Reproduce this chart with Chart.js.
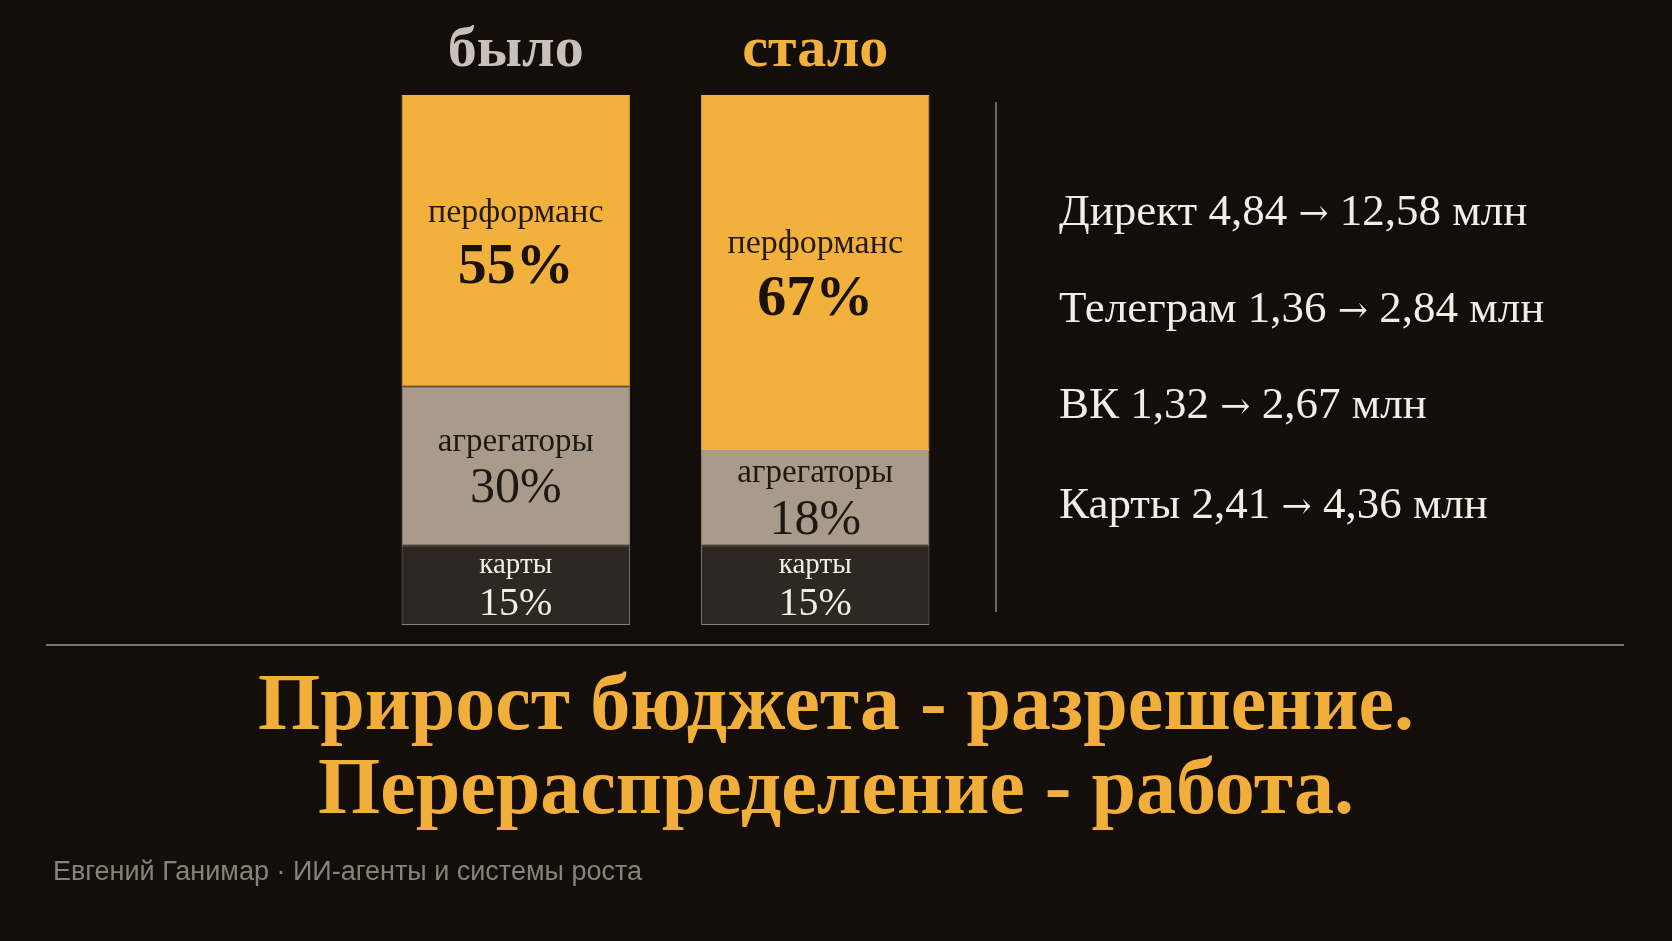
<!DOCTYPE html>
<html lang="ru">
<head>
<meta charset="utf-8">
<title>Бюджет: было / стало</title>
<script src="https://cdn.jsdelivr.net/npm/chart.js@4.4.1/dist/chart.umd.min.js"></script>
<style>
  html, body { margin: 0; padding: 0; background: #140e0b; }
  body { width: 1672px; height: 941px; position: relative; overflow: hidden; font-family: "Liberation Serif", "DejaVu Serif", serif; }
  #wrap { position: absolute; left: 0; top: 0; width: 1672px; height: 941px; }
  .divider { position: absolute; left: 995px; top: 102px; width: 2px; height: 510px; background: #6f665d; }
  .rule { position: absolute; left: 46px; top: 644px; width: 1578px; height: 2px; background: #7a7067; }
  .list { position: absolute; left: 1059px; top: 0; color: #f3ede5; font-size: 45px; }
  .list div { position: absolute; white-space: nowrap; line-height: 1; transform: translateY(-50%); }
  .list .arr { font-family: "DejaVu Serif", serif; font-size: 36px; }
  .headline { position: absolute; left: 0; width: 1672px; top: 660px; text-align: center; color: #f1ae3b; font-weight: bold; font-size: 80px; line-height: 84px; }
  .footer { position: absolute; left: 53px; top: 856px; color: #8a8279; font-family: "Liberation Sans", Arial, sans-serif; font-size: 27px; white-space: nowrap; }
</style>
</head>
<body>
<div id="wrap"><canvas id="budget-chart"></canvas></div>
<div class="divider"></div>
<div class="rule"></div>
<div class="list" id="channel-list"></div>
<div class="headline">Прирост бюджета - разрешение.<br>Перераспределение - работа.</div>
<div class="footer">Евгений Ганимар · ИИ-агенты и системы роста</div>
<script>
// columns
const periods = ['было', 'стало'];
const periodColors = ['#c9c1b9', '#f2b13c'];

// segments, bottom to top
const segments = ['карты', 'агрегаторы', 'перформанс'];
const mapsShare = [15, 15];
const aggregatorsShare = [30, 18];
const performanceShare = [55, 67];

// budget by channel, млн
const channels = ['Директ', 'Телеграм', 'ВК', 'Карты'];
const budgetBefore = ['4,84', '1,36', '1,32', '2,41'];
const budgetAfter = ['12,58', '2,84', '2,67', '4,36'];

const listTops = [210, 307, 403, 503];
document.getElementById('channel-list').innerHTML = channels.map((c, i) =>
  `<div style="top:${listTops[i]}px">${c} ${budgetBefore[i]} <span class="arr">→</span> ${budgetAfter[i]} млн</div>`
).join('');

const segStyle = [
  { bg: '#2e2823', border: '#8a8077', label: '#f3ede5', value: '#f3ede5', labelSize: 29, valueSize: 40, valueWeight: 'normal', sep: 36 },
  { bg: '#a89b8c', border: '#a89b8c', label: '#1f1812', value: '#1f1812', labelSize: 33, valueSize: 50, valueWeight: 'normal', sep: 44 },
  { bg: '#f2b13c', border: '#f2b13c', label: '#241a10', value: '#1a120a', labelSize: 34, valueSize: 58, valueWeight: 'bold', sep: 52 }
];

const shares = [mapsShare, aggregatorsShare, performanceShare];

const labelPlugin = {
  id: 'segmentLabels',
  afterDatasetsDraw(chart) {
    const ctx = chart.ctx;
    const x = chart.scales.x;
    const area = chart.chartArea;
    ctx.save();
    ctx.textAlign = 'center';
    ctx.textBaseline = 'middle';
    // column titles
    periods.forEach((p, i) => {
      ctx.fillStyle = periodColors[i];
      ctx.font = 'bold 58px "Liberation Serif", serif';
      ctx.fillText(p, x.getPixelForValue(i), area.top - 44);
    });
    // labels inside segments
    chart.data.datasets.forEach((ds, di) => {
      const meta = chart.getDatasetMeta(di);
      const st = segStyle[di];
      meta.data.forEach((bar, i) => {
        const mid = (bar.y + bar.base) / 2;
        ctx.fillStyle = st.label;
        ctx.font = st.labelSize + 'px "Liberation Serif", serif';
        ctx.fillText(ds.label, bar.x, mid - st.sep / 2 - 2);
        ctx.fillStyle = st.value;
        ctx.font = st.valueWeight + ' ' + st.valueSize + 'px "Liberation Serif", serif';
        ctx.fillText(ds.data[i] + '%', bar.x, mid + st.sep / 2 + 1);
      });
    });
    ctx.restore();
  }
};

new Chart(document.getElementById('budget-chart'), {
  type: 'bar',
  data: {
    labels: periods,
    datasets: segments.map((s, i) => ({
      label: s,
      data: shares[i],
      backgroundColor: segStyle[i].bg,
      borderColor: segStyle[i].border,
      borderWidth: 1,
      borderSkipped: false,
      barPercentage: 1,
      categoryPercentage: 0.7625
    }))
  },
  options: {
    responsive: true,
    maintainAspectRatio: false,
    animation: false,
    layout: { padding: { left: 366, right: 707, top: 95, bottom: 316 } },
    plugins: { legend: { display: false }, tooltip: { enabled: false } },
    scales: {
      x: { stacked: true, display: false },
      y: { stacked: true, display: false, min: 0, max: 100 }
    }
  },
  plugins: [labelPlugin]
});
</script>
</body>
</html>
